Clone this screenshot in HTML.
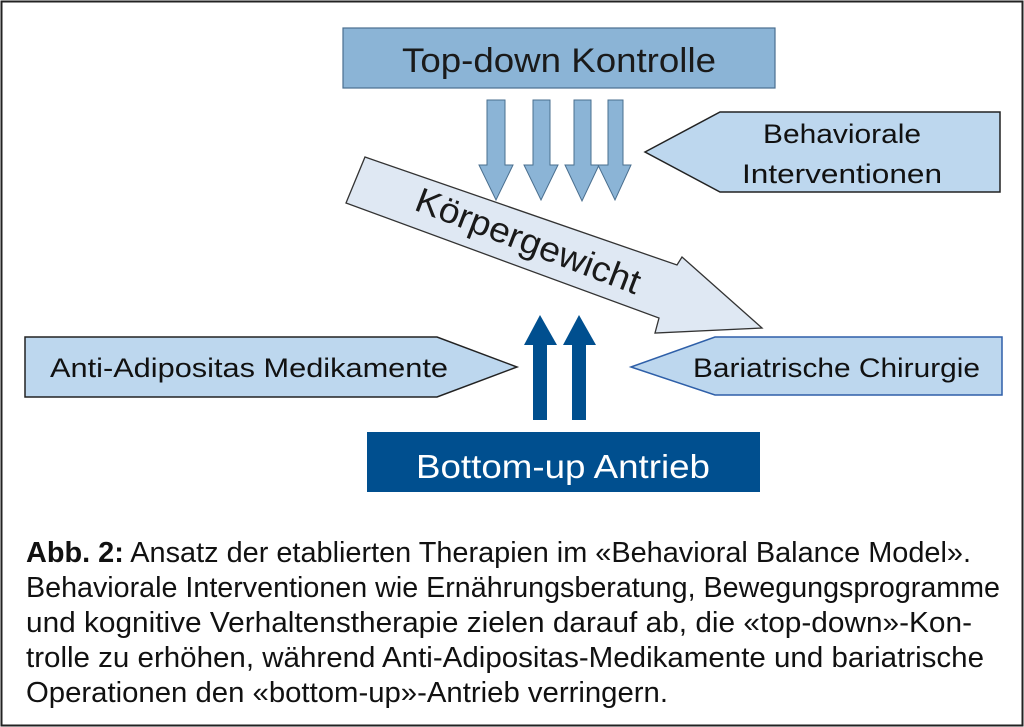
<!DOCTYPE html>
<html><head><meta charset="utf-8"><style>
html,body{margin:0;padding:0;background:#fff}
svg{display:block}
text{font-family:"Liberation Sans",sans-serif}
</style></head><body>
<svg width="1024" height="727" viewBox="0 0 1024 727" xmlns="http://www.w3.org/2000/svg">
<rect x="1.5" y="1.5" width="1021" height="724" fill="#fff" stroke="#222" stroke-width="2"/>
<rect x="343" y="28" width="432" height="60" fill="#8bb4d6" stroke="#4a6f8f" stroke-width="1.2"/>
<text x="559" y="72" font-size="34" text-anchor="middle" fill="#1a1a1a" textLength="314" lengthAdjust="spacingAndGlyphs">Top-down Kontrolle</text>
<g fill="#8bb4d6" stroke="#4a6f8f" stroke-width="1">
<polygon points="487,100 505,100 505,165 513,165 496,200 479,165 487,165"/>
<polygon points="533,100 550,100 550,165 558,165 541,200 524,165 533,165"/>
<polygon points="574,100 591,100 591,165 599,165 582,201 565,165 574,165"/>
<polygon points="608,100 623,100 623,165 631,165 615,200 598,165 608,165"/>
</g>
<polygon points="645,152 720,112 1000,112 1000,192 720,192" fill="#bdd7ee" stroke="#222" stroke-width="1.5"/>
<text x="842" y="143" font-size="27" text-anchor="middle" fill="#111" textLength="158" lengthAdjust="spacingAndGlyphs">Behaviorale</text>
<text x="842" y="183" font-size="27" text-anchor="middle" fill="#111" textLength="200" lengthAdjust="spacingAndGlyphs">Interventionen</text>
<polygon points="365,157 677,265 682,257 762,328 655,333 659,318 346,203" fill="#dfe8f3" stroke="#333" stroke-width="1.3"/>
<text x="0" y="0" font-size="35" text-anchor="middle" fill="#1a1a1a" transform="translate(524,252) rotate(21)" textLength="238" lengthAdjust="spacingAndGlyphs">Körpergewicht</text>
<g fill="#004f8f">
<polygon points="533,420 547,420 547,345 557,345 540,315 524,345 533,345"/>
<polygon points="572,420 586,420 586,345 596,345 579,315 563,345 572,345"/>
</g>
<polygon points="25,337 437,337 517,367 437,397 25,397" fill="#bdd7ee" stroke="#222" stroke-width="1.5"/>
<text x="50" y="377" font-size="27" fill="#111" textLength="398" lengthAdjust="spacingAndGlyphs">Anti-Adipositas Medikamente</text>
<polygon points="631,367 715,337 1002,337 1002,395 715,395" fill="#bdd7ee" stroke="#2e5fa8" stroke-width="1.5"/>
<text x="693" y="377" font-size="27" fill="#111" textLength="287" lengthAdjust="spacingAndGlyphs">Bariatrische Chirurgie</text>
<rect x="367" y="432" width="393" height="60" fill="#004f8f"/>
<text x="563" y="478" font-size="33" text-anchor="middle" fill="#fff" textLength="294" lengthAdjust="spacingAndGlyphs">Bottom-up Antrieb</text>
<g font-size="29" fill="#111">
<text x="26" y="562" textLength="945" lengthAdjust="spacingAndGlyphs"><tspan font-weight="bold">Abb. 2:</tspan> Ansatz der etablierten Therapien im «Behavioral Balance Model».</text>
<text x="26" y="597" textLength="974" lengthAdjust="spacingAndGlyphs">Behaviorale Interventionen wie Ernährungsberatung, Bewegungsprogramme</text>
<text x="26" y="632" textLength="946" lengthAdjust="spacingAndGlyphs">und kognitive Verhaltenstherapie zielen darauf ab, die «top-down»-Kon-</text>
<text x="26" y="667" textLength="958" lengthAdjust="spacingAndGlyphs">trolle zu erhöhen, während Anti-Adipositas-Medikamente und bariatrische</text>
<text x="26" y="702" textLength="642" lengthAdjust="spacingAndGlyphs">Operationen den «bottom-up»-Antrieb verringern.</text>
</g>
</svg>
</body></html>
